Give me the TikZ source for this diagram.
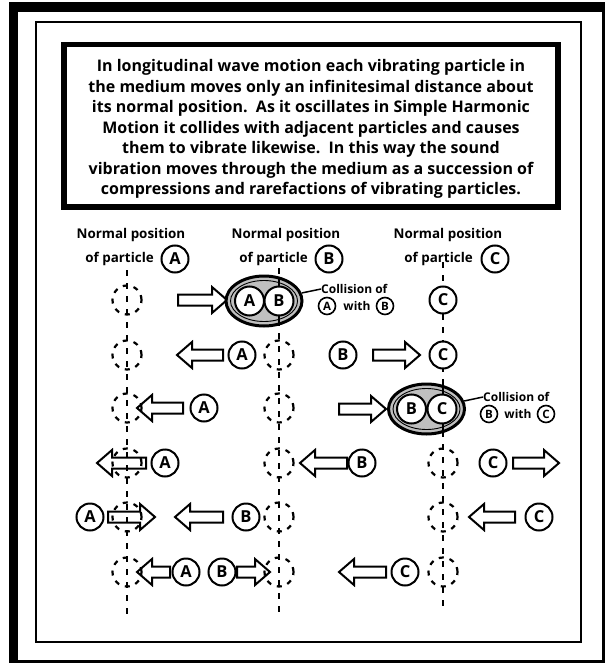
\documentclass[tikz,border=0pt]{standalone}
\usepackage{fontspec}
\setmainfont{Open Sans}
\usetikzlibrary{shapes.geometric}
\newcommand\blockarrow[4]{% name, tail x, tip x, y
  \pgfmathsetmacro\hx{#3>#2 ? #3-15 : #3+15}
  \draw[arrline] (#2,#4-5.5) -- (\hx,#4-5.5) -- (\hx,#4-13) -- (#3,#4) -- (\hx,#4+13) -- (\hx,#4+5.5) -- (#2,#4+5.5) -- cycle;
  \coordinate (#1) at ({(#2+#3)/2},#4);}
\begin{document}
\begin{tikzpicture}[x=1pt,y=-1pt,
  pt/.style={circle, draw, line width=2, fill=white, minimum size=27, inner sep=0, font=\fontsize{16.5}{16.5}\selectfont\bfseries},
  dpt/.style={circle, draw, line width=2.2, dash pattern=on 5pt off 6pt, minimum size=29, inner sep=0},
  spt/.style={circle, draw, line width=1.6, fill=white, minimum size=17, inner sep=0, font=\fontsize{11.5}{11.5}\selectfont\bfseries},
  lbl/.style={font=\fontsize{13.4}{13.4}\selectfont\bfseries, inner sep=0},
  cl/.style={font=\fontsize{12}{12}\selectfont\bfseries, inner sep=0},
  arrline/.style={line width=2, line join=miter},
  vline/.style={line width=2.4, dash pattern=on 6pt off 7pt},
  coll/.style={ellipse, draw, line width=3, fill=black!25, minimum width=76, minimum height=50, inner sep=0}
]
\useasboundingbox (0,0) rectangle (605,663);
% frames
\fill[black] (9,2) rectangle (605,663);
\fill[white] (18,12) rectangle (602,660);
\draw[line width=2.2] (36,22) rectangle (581,642);
\draw[line width=5.5] (64,44.5) rectangle (558,207);
\node[align=center, inner sep=0, font=\fontsize{16}{20.5}\selectfont\bfseries] (txt) at (311,129)
 {In longitudinal wave motion each vibrating particle in\\
  the medium moves only an infinitesimal distance about\\
  its normal position.\ \ As it oscillates in Simple Harmonic\\
  Motion it collides with adjacent particles and causes\\
  them to vibrate likewise.\ \ In this way the sound\\
  vibration moves through the medium as a succession of\\
  compressions and rarefactions of vibrating particles.};
% column labels
\node[lbl] (nA) at (131,235) {Normal position};
\node[lbl, anchor=east] (oA) at (154,259) {of particle};
\node[pt] (lA) at (175,259) {A};
\node[lbl] (nB) at (286,235) {Normal position};
\node[lbl, anchor=east] (oB) at (308,259) {of particle};
\node[pt] (lB) at (329,259) {B};
\node[lbl] (nC) at (448,235) {Normal position};
\node[lbl, anchor=east] (oC) at (473,259) {of particle};
\node[pt] (lC) at (495,259) {C};
% vertical lines
\coordinate (tA) at (127,270); \coordinate (bA) at (127,619);
\coordinate (tB) at (279,268); \coordinate (bB) at (279,619);
\coordinate (tC) at (443,262); \coordinate (bC) at (443,613);
\draw[vline] (tA) -- (bA);
\draw[vline] (tB) -- (bB);
\draw[vline] (tC) -- (bC);
% dashed circles (normal positions)
\foreach \y [count=\i] in {300,355,408,463,517,572} {
  \node[dpt] (dA\i) at (127,\y) {};
}
\foreach \y [count=\i] in {355,408,463,517,572} {
  \node[dpt] (dB\i) at (279,\y) {};
}
\foreach \y [count=\i] in {463,517,572} {
  \node[dpt] (dC\i) at (443,\y) {};
}
% arrows (tail x, tip x, y)
\blockarrow{r1a}{178}{227}{300}
\blockarrow{r2a}{223}{177}{355}
\blockarrow{r2b}{373}{420}{355}
\blockarrow{r3a}{183}{137}{408}
\blockarrow{r3b}{339}{386}{409}
\blockarrow{r4a}{146}{97}{463}
\blockarrow{r4b}{347}{300}{463}
\blockarrow{r4c}{513}{559}{463}
\blockarrow{r5a}{108}{155}{517}
\blockarrow{r5b}{223}{175}{517}
\blockarrow{r5c}{515}{469}{517}
\blockarrow{r6a}{170}{137}{572}
\blockarrow{r6b}{237}{270}{572}
\blockarrow{r6c}{386}{339}{572}
% collision 1
\node[coll] (e1) at (264,301) {};
\draw[line width=0.9] (e1.center) ellipse [x radius=33.5, y radius=20.5];
\draw[line width=1.5] (279,277) -- (279,325);
\node[pt, minimum size=29] (cAB1) at (249.5,301) {A};
\node[pt, minimum size=29] (cAB2) at (279,301) {B};
\node[cl, anchor=west] (k1) at (321,289) {Collision of};
\draw[line width=1.5] (e1.12) -- (k1.west);
\node[spt] (k1a) at (327,306) {A};
\node[cl] (k1w) at (357,306) {with};
\node[spt] (k1b) at (385,306) {B};
% collision 2
\node[coll] (e2) at (426.5,409) {};
\draw[line width=0.9] (e2.center) ellipse [x radius=33.5, y radius=20.5];
\draw[line width=1.5] (443,385) -- (443,433);
\node[pt, minimum size=29] (cBC1) at (411.5,409) {B};
\node[pt, minimum size=29] (cBC2) at (442,409) {C};
\node[cl, anchor=west] (k2) at (483,397) {Collision of};
\draw[line width=1.5] (e2.12) -- (k2.west);
\node[spt] (k2a) at (489,414) {B};
\node[cl] (k2w) at (518,414) {with};
\node[spt] (k2b) at (546,414) {C};
% solid particles
\node[pt] (C1) at (443,300) {C};
\node[pt] (A2) at (242,355) {A};
\node[pt] (B2) at (343,355) {B};
\node[pt] (C2) at (443,355) {C};
\node[pt] (A3) at (204,408) {A};
\node[pt] (A4) at (165,463) {A};
\node[pt] (B4) at (362,463) {B};
\node[pt] (C4) at (493,463) {C};
\node[pt] (A5) at (90,517) {A};
\node[pt] (B5) at (246,517) {B};
\node[pt] (C5) at (539,517) {C};
\node[pt] (A6) at (186,572) {A};
\node[pt] (B6) at (222,572) {B};
\node[pt] (C6) at (405,572) {C};
\end{tikzpicture}
\end{document}
